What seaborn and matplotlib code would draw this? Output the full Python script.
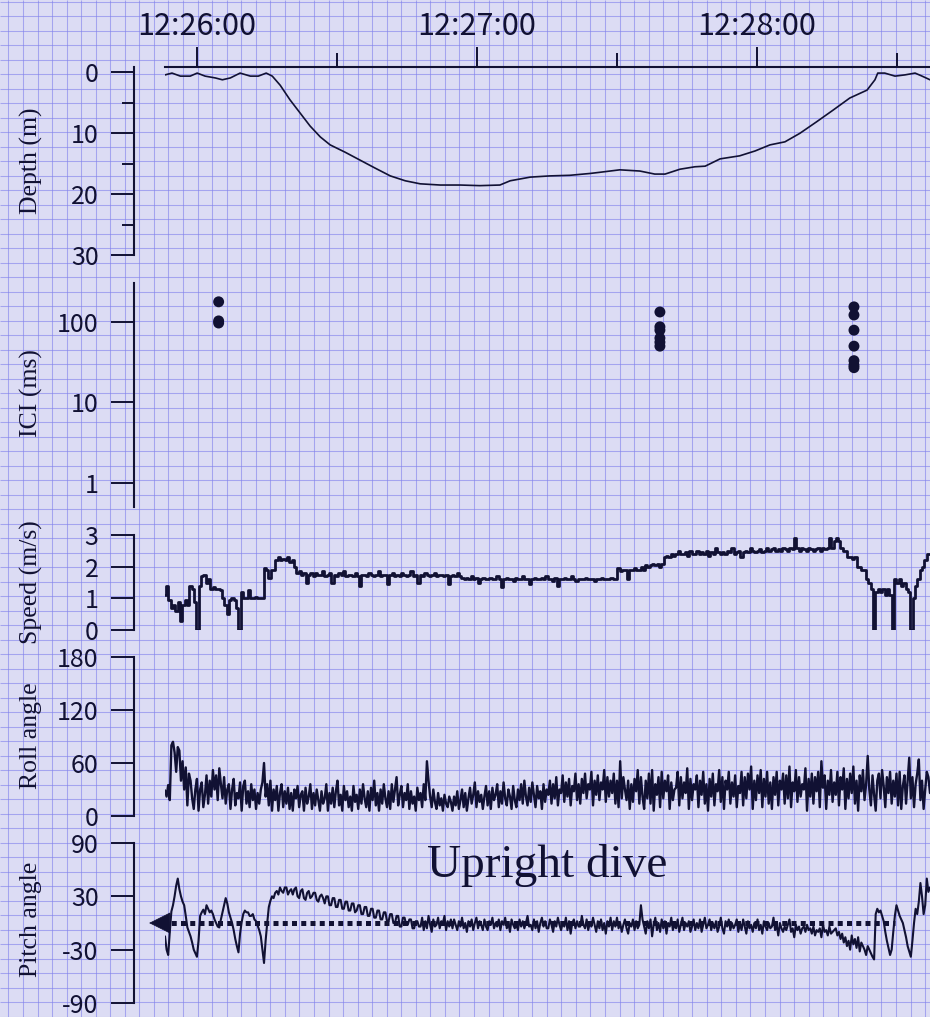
import numpy as np
import pandas as pd
import matplotlib
matplotlib.use("Agg")
import matplotlib.pyplot as plt
import seaborn as sns
from matplotlib.ticker import FixedLocator, NullLocator, FixedFormatter

# ---------------- data (time in seconds after 12:26:00) ----------------
depth_t = [-6.9, -5.4, -3.6, -1.5, 0, 1.7, 3.9, 5.4, 7.1, 9.2, 11.4, 13.1, 14.8, 16.1, 17.8,
           19.9, 22.1, 24.2, 26.4, 28.5, 31.7, 34.9, 38.1, 41.4, 44.6, 47.8, 52.1, 56.4, 60.6,
           64.9, 67.1, 71.4, 75.6, 79.9, 84.2, 86.4, 90.6, 94.9, 98.1, 100.3, 103.5, 106.7,
           108.9, 112.1, 116.3, 119.6, 122.8, 126.0, 129.2, 132.8, 136.3, 139.9, 143.6, 145.3,
           145.9, 147.4, 149.6, 151.7, 153.9, 155.4, 157.1]
depth_m = [0.4, 0.1, 0.6, 0.6, 0.1, 0.6, 0.9, 1.2, 0.9, 0.1, 0.6, 0.6, 0.1, 0.6, 2.1,
           4.5, 6.7, 8.8, 10.6, 11.9, 13.1, 14.4, 15.7, 17.0, 17.8, 18.3, 18.5, 18.5, 18.6,
           18.5, 17.8, 17.2, 17.0, 16.9, 16.6, 16.4, 16.0, 16.2, 16.7, 16.7, 15.9, 15.5,
           15.4, 14.2, 13.7, 12.9, 11.9, 11.4, 10.0, 8.1, 6.2, 4.2, 2.9, 1.2,
           0.1, 0.1, 0.6, 0.4, 0.1, 0.6, 1.2]

ici_t = [4.6, 4.6, 4.6,
         99.2, 99.2, 99.2, 99.2, 99.2, 99.2,
         140.8, 140.8, 140.8, 140.8, 140.8, 140.8, 140.8]
ici_ms = [178, 103, 97,
          133, 87, 79, 63, 56, 50,
          154, 122, 79, 50, 33, 29, 27]

speed_ms = [
    1.1, 1.4, 0.95, 0.7, 0.8, 0.6, 0.9, 0.3, 0.8, 0.95, 0.8, 1.4, 1.3, 0.9, 0.0, 1.4, 1.7, 1.75, 1.5, 1.6,
    1.3, 1.35, 1.3, 1.3, 1.25, 1.0, 0.8, 0.5, 0.95, 1.0, 0.95, 0.7, 0.0, 1.2, 1.0, 1.0, 1.25, 1.0, 1.0, 1.05,
    1.0, 1.0, 1.0, 1.95, 1.9, 1.65, 1.9, 1.9, 2.2, 2.3, 2.2, 2.25, 2.2, 2.3, 2.15, 2.2, 2.0, 1.8, 1.85, 1.75,
    1.8, 1.5, 1.75, 1.8, 1.7, 1.8, 1.75, 1.75, 1.85, 1.7, 1.75, 1.8, 1.5, 1.75, 1.7, 1.8, 1.75, 1.85, 1.7, 1.75,
    1.75, 1.7, 1.8, 1.7, 1.4, 1.75, 1.75, 1.7, 1.8, 1.75, 1.7, 1.75, 1.85, 1.7, 1.75, 1.75, 1.45, 1.75, 1.8, 1.7,
    1.75, 1.7, 1.8, 1.75, 1.7, 1.75, 1.85, 1.7, 1.75, 1.5, 1.75, 1.7, 1.8, 1.75, 1.7, 1.75, 1.8, 1.7, 1.75, 1.75,
    1.7, 1.75, 1.45, 1.7, 1.75, 1.7, 1.8, 1.7, 1.65, 1.6, 1.65, 1.6, 1.7, 1.6, 1.65, 1.5, 1.6, 1.65, 1.6, 1.6,
    1.65, 1.6, 1.6, 1.7, 1.6, 1.35, 1.6, 1.65, 1.6, 1.6, 1.55, 1.65, 1.6, 1.6, 1.7, 1.6, 1.6, 1.45, 1.6, 1.65,
    1.6, 1.6, 1.65, 1.6, 1.7, 1.6, 1.6, 1.55, 1.65, 1.4, 1.6, 1.6, 1.65, 1.6, 1.6, 1.7, 1.6, 1.55, 1.6, 1.6,
    1.6, 1.65, 1.6, 1.6, 1.6, 1.55, 1.6, 1.6, 1.65, 1.6, 1.6, 1.6, 1.65, 1.6, 1.6, 1.95, 1.85, 1.9, 1.9, 1.6,
    1.9, 1.9, 1.95, 1.9, 1.9, 2.0, 1.9, 2.05, 2.0, 2.05, 2.1, 2.05, 2.1, 2.0, 2.1, 2.3, 2.35, 2.3, 2.4, 2.35,
    2.4, 2.5, 2.4, 2.4, 2.45, 2.35, 2.5, 2.4, 2.4, 2.5, 2.4, 2.45, 2.4, 2.5, 2.35, 2.45, 2.4, 2.6, 2.45, 2.4,
    2.45, 2.4, 2.5, 2.45, 2.6, 2.4, 2.45, 2.5, 2.3, 2.45, 2.5, 2.45, 2.6, 2.5, 2.45, 2.5, 2.55, 2.45, 2.5, 2.6,
    2.5, 2.55, 2.6, 2.5, 2.55, 2.5, 2.6, 2.55, 2.5, 2.6, 2.55, 2.9, 2.6, 2.5, 2.6, 2.55, 2.5, 2.6, 2.55, 2.5,
    2.55, 2.6, 2.5, 2.6, 2.55, 2.6, 2.9, 2.6, 2.8, 2.9, 2.8, 2.6, 2.5, 2.5, 2.3, 2.3, 2.25, 2.3, 2.0, 2.0,
    1.9, 1.9, 1.6, 1.5, 1.3, 0.0, 1.2, 1.3, 1.2, 1.3, 1.1, 1.3, 1.1, 0.0, 1.6, 1.5, 1.6, 1.4, 1.5, 1.3,
    1.2, 0.0, 1.0, 1.4, 1.6, 1.9, 2.0, 2.2, 2.4, 2.4]

roll_deg = [
    29, 22, 35, 18, 80, 84, 72, 50, 78, 74, 40, 62, 30, 55, 12, 48, 40, 20, 8, 30,
    42, 6, 30, 38, 10, 24, 46, 14, 40, 22, 52, 30, 46, 18, 54, 36, 20, 44, 14, 30,
    36, 8, 30, 42, 12, 26, 20, 38, 6, 34, 40, 14, 28, 10, 36, 18, 30, 8, 26, 14,
    30, 38, 60, 22, 36, 12, 40, 6, 30, 18, 34, 6, 26, 36, 10, 28, 14, 32, 8, 26,
    6, 30, 20, 34, 10, 24, 28, 6, 32, 14, 22, 36, 8, 26, 12, 30, 18, 6, 28, 14,
    20, 36, 6, 26, 14, 32, 10, 28, 40, 12, 24, 6, 34, 18, 28, 10, 22, 6, 34, 16,
    24, 8, 30, 14, 36, 20, 10, 28, 6, 32, 18, 40, 12, 26, 6, 30, 14, 36, 20, 10,
    28, 8, 36, 16, 30, 44, 12, 24, 34, 10, 26, 18, 36, 8, 28, 14, 22, 6, 32, 18,
    26, 10, 36, 18, 62, 40, 22, 10, 30, 16, 8, 26, 12, 20, 6, 24, 14, 10, 22, 16,
    6, 22, 12, 28, 8, 18, 30, 10, 26, 6, 20, 32, 14, 24, 38, 10, 28, 16, 24, 8,
    22, 34, 12, 28, 8, 32, 18, 24, 36, 10, 28, 14, 38, 20, 12, 30, 22, 8, 34, 18,
    10, 30, 18, 36, 14, 40, 22, 12, 32, 16, 38, 24, 10, 34, 20, 28, 8, 36, 16, 30,
    24, 40, 14, 36, 20, 44, 12, 30, 26, 46, 16, 38, 22, 42, 12, 34, 28, 48, 18, 36,
    14, 42, 26, 48, 20, 36, 30, 50, 12, 40, 24, 46, 18, 38, 30, 52, 16, 44, 22, 40,
    26, 48, 14, 40, 10, 62, 20, 44, 30, 18, 40, 8, 36, 16, 42, 28, 52, 14, 44, 22,
    8, 40, 20, 48, 14, 52, 6, 36, 24, 44, 10, 50, 20, 40, 28, 46, 8, 38, 18, 30,
    32, 50, 12, 44, 20, 38, 26, 54, 8, 42, 18, 36, 30, 46, 10, 40, 24, 50, 14, 36,
    6, 42, 22, 48, 12, 36, 28, 52, 16, 44, 8, 40, 30, 50, 14, 38, 22, 46, 10, 34,
    26, 50, 12, 44, 20, 48, 30, 56, 8, 40, 18, 46, 26, 52, 10, 42, 22, 50, 14, 38,
    8, 44, 24, 50, 12, 40, 30, 48, 14, 46, 20, 56, 10, 38, 28, 52, 16, 44, 22, 36,
    30, 54, 6, 42, 22, 48, 14, 44, 28, 50, 10, 62, 32, 46, 8, 40, 24, 52, 16, 38,
    24, 50, 12, 44, 30, 54, 8, 42, 20, 48, 26, 56, 14, 40, 6, 46, 28, 52, 18, 36,
    68, 30, 12, 46, 24, 6, 40, 48, 20, 52, 34, 10, 44, 26, 50, 14, 40, 22, 48, 12,
    50, 8, 34, 46, 14, 40, 66, 20, 44, 10, 36, 48, 64, 18, 40, 8, 30, 50, 44, 26]

pitch_deg = [
    -15, -30, -36, -10, 13, 20, 30, 42, 50, 38, 30, 24, 20, 8, -5, -10, -15, -22, -30, -34,
    -38, -20, 8, 12, 15, 10, 20, 16, 12, 14, 10, 4, 0, -4, -5, 4, 12, 20, 28, 22,
    12, 6, 0, -8, -18, -26, -33, -12, 1, 10, 14, 12, 12, 8, 8, 10, 4, 2, -3, -8,
    -15, -30, -45, -20, 0, 18, 25, 30, 28, 34, 36, 32, 40, 36, 34, 40, 40, 32, 36, 38,
    32, 38, 40, 30, 28, 36, 38, 28, 26, 34, 36, 28, 30, 34, 34, 26, 24, 30, 32, 28,
    22, 30, 30, 20, 20, 28, 28, 18, 18, 26, 26, 16, 16, 24, 24, 14, 14, 22, 22, 12,
    14, 20, 20, 10, 10, 18, 18, 8, 8, 16, 16, 6, 6, 14, 14, 4, 4, 12, 12, 2,
    2, 10, 10, 0, 0, 8, 8, -4, -4, 6, 6, -2, -2, 4, 4, -6, -6, 2, 2, -4,
    -4, 6, -8, 2, -6, 8, -2, -10, 4, -4, -2, 6, -6, 2, 0, 8, -8, 2, -4, 4,
    -6, 4, -2, -8, 2, -4, 6, -6, 0, -10, 2, -4, 4, -8, 0, 6, -6, 2, -2, -8,
    4, -4, -8, 2, -2, 6, -6, 0, -4, 4, -8, 2, -2, 6, -6, 0, -10, 4, -2, -6,
    -2, -8, 4, -4, 2, -6, 0, 8, -4, -2, -8, 4, -6, 2, -10, 0, 6, -4, 2, -6,
    -6, 4, -2, -10, 2, -4, 6, -2, -8, 0, -4, 6, -8, 2, -12, 0, 4, -6, 2, -4,
    -4, 8, -2, -6, 4, -8, 0, -4, 6, -2, -10, 2, -6, 4, -8, 0, -12, 2, -4, 6,
    -8, 2, -4, 6, -6, 0, -10, -2, 4, -6, -12, 0, -4, 4, -8, 2, -6, -2, 20, 4,
    -4, -12, 2, -6, 4, -15, -2, 6, -8, 0, -10, 4, -6, 2, -12, 0, -4, 6, -8, -2,
    -6, 4, -10, -2, 6, -8, 0, -4, 2, -10, -4, 4, -8, 0, -6, 4, -10, -2, 6, -6,
    -2, 4, -8, 0, -6, 2, -10, -4, 6, -6, -12, 2, -4, 4, -8, 0, -6, -2, 4, -10,
    0, -8, 4, -4, -12, 2, -6, -2, -10, 0, -6, 4, -8, -2, -12, 2, -4, -8, 0, -6,
    -4, 6, -8, -2, -14, 0, -6, -10, -4, -8, -2, 4, -10, -6, -16, -2, -8, -4, -12, -6,
    -4, -10, -2, -8, -6, -12, -4, -14, -8, -10, -6, -16, -2, -10, -8, -14, -4, -12, -10, -8,
    -6, -14, -10, -18, -12, -22, -16, -26, -20, -30, -14, -24, -18, -28, -16, -32, -22, -26, -30, -36,
    -26, -30, -34, -38, -41, 10, 16, 12, 14, 8, 2, -10, -20, -28, -36, -30, -10, 8, 20, 14,
    8, 4, 0, -8, -16, -26, -32, -38, -20, 0, 16, 10, 24, 45, 30, 10, 20, 50, 35, 40]

time_ticks = [0, 60, 120]
time_labels = ["12:26:00", "12:27:00", "12:28:00"]
time_minor = [30, 90, 150]
panel_labels = ["Depth (m)", "ICI (ms)", "Speed (m/s)", "Roll angle", "Pitch angle"]
annot_text = "Upright dive"

T0, T1 = -6.9, 157.1
speed_t = np.linspace(T0, T1, len(speed_ms))
roll_t = np.linspace(T0, T1, len(roll_deg))
pitch_t = np.linspace(T0, T1, len(pitch_deg))

# ---------------- style ----------------
sns.set_style("white")
plt.rcParams["font.family"] = ["Noto Sans CJK JP", "DejaVu Sans"]
INK = "#111133"
BG = "#dcdcf4"
GRID = "#8080ec"
W, H = 930, 1017
fig = plt.figure(figsize=(W / 100, H / 100), dpi=100)

# graph-paper background
bg = fig.add_axes([0, 0, 1, 1], zorder=-5)
bg.set_xlim(0, W)
bg.set_ylim(H, 0)
bg.set_facecolor(BG)
bg.vlines(np.arange(8.4, W, 14.55), 0, H, color=GRID, lw=0.75, alpha=0.6)
bg.hlines(np.arange(1.8, H, 14.5), 0, W, color=GRID, lw=0.75, alpha=0.6)
bg.axis("off")
fig.patch.set_facecolor(BG)

L = 165 / W
WID = 1 - L

def panel(top_px, bot_px):
    ax = fig.add_axes([L, 1 - bot_px / H, WID, (bot_px - top_px) / H])
    ax.set_facecolor("none")
    ax.set_xlim(T0, T1)
    for s in ["top", "right", "bottom"]:
        ax.spines[s].set_visible(False)
    ax.spines["left"].set_position(("outward", 22.3))
    ax.spines["left"].set_linewidth(1.5)
    ax.spines["left"].set_color(INK)
    ax.xaxis.set_major_locator(NullLocator())
    ax.xaxis.set_minor_locator(NullLocator())
    ax.tick_params(axis="y", which="both", left=True, right=False)
    ax.tick_params(axis="y", which="major", direction="out", length=16.5, width=1.4,
                   color=INK, labelsize=18, labelcolor=INK, pad=9)
    ax.tick_params(axis="y", which="minor", direction="out", length=8.5, width=1.4, color=INK)
    ax.set_xlabel("")
    ax.set_ylabel("")
    return ax

# depth
ax_d = panel(67, 255)
sns.lineplot(x=depth_t, y=depth_m, ax=ax_d, color=INK, lw=1.2, sort=False)
ax_d.set_ylim(30, -0.9)
ax_d.yaxis.set_major_locator(FixedLocator([0, 10, 20, 30]))
ax_d.yaxis.set_minor_locator(FixedLocator([5, 15, 25]))
ax_d.spines["top"].set_visible(True)
ax_d.spines["top"].set_linewidth(1.5)
ax_d.spines["top"].set_color(INK)
ax_d.xaxis.tick_top()
ax_d.xaxis.set_major_locator(FixedLocator(time_ticks))
ax_d.xaxis.set_major_formatter(FixedFormatter(time_labels))
ax_d.xaxis.set_minor_locator(FixedLocator(time_minor))
ax_d.tick_params(axis="x", which="both", top=True, bottom=False)
ax_d.tick_params(axis="x", which="major", direction="out", length=14.5, width=1.4,
                 color=INK, labelsize=22, labelcolor=INK, pad=3.5)
ax_d.tick_params(axis="x", which="minor", direction="out", length=10, width=1.4, color=INK)
ax_d.set_xlim(T0, T1)

# ICI
ax_i = panel(283, 507)
sns.scatterplot(x=ici_t, y=ici_ms, ax=ax_i, color=INK, s=62, edgecolor="none")
ax_i.set_yscale("log")
ax_i.set_ylim(0.5, 305)
ax_i.yaxis.set_major_locator(FixedLocator([1, 10, 100]))
ax_i.yaxis.set_major_formatter(FixedFormatter(["1", "10", "100"]))
ax_i.yaxis.set_minor_locator(NullLocator())
ax_i.set_xlim(T0, T1)

# speed
ax_s = panel(535, 630)
sns.lineplot(x=speed_t, y=speed_ms, ax=ax_s, color=INK, lw=2.0, drawstyle="steps-mid")
ax_s.set_ylim(0, 3)
ax_s.yaxis.set_major_locator(FixedLocator([0, 1, 2, 3]))
ax_s.set_xlim(T0, T1)

# roll
ax_r = panel(657, 816)
sns.lineplot(x=roll_t, y=roll_deg, ax=ax_r, color=INK, lw=1.7)
ax_r.set_ylim(0, 180)
ax_r.yaxis.set_major_locator(FixedLocator([0, 60, 120, 180]))
ax_r.set_xlim(T0, T1)

# pitch
ax_p = panel(843, 1003)
sns.lineplot(x=pitch_t, y=pitch_deg, ax=ax_p, color=INK, lw=1.5)
ax_p.set_ylim(-90, 90)
ax_p.yaxis.set_major_locator(FixedLocator([-90, -30, 30, 90]))
ax_p.yaxis.set_major_formatter(FixedFormatter(["-90", "-30", "30", "90"]))
ax_p.set_xlim(T0, T1)
ax_p.plot([-7.5, 149.5], [0, 0], color=INK, lw=3.6, ls=(0, (1, 0.85)),
          solid_capstyle="butt", dash_capstyle="butt", clip_on=False)
ax_p.annotate("", xy=(-10.3, 0), xytext=(-6.5, 0), annotation_clip=False,
              arrowprops=dict(arrowstyle="-|>,head_length=0.9,head_width=0.45",
                              color=INK, lw=0.5, mutation_scale=16, shrinkA=0, shrinkB=0))
ax_p.text(75, 65, annot_text, ha="center", va="center", fontsize=34, color=INK,
          family=["Liberation Serif", "DejaVu Serif"])

# y labels
label_y = [161, 393, 582, 736, 919]
for lab, yc in zip(panel_labels, label_y):
    fig.text(31 / W, 1 - yc / H, lab, rotation=90, ha="center", va="center",
             fontsize=18.5, color=INK, family=["Liberation Serif", "DejaVu Serif"])

fig.savefig("out.png", dpi=100, facecolor=BG)
